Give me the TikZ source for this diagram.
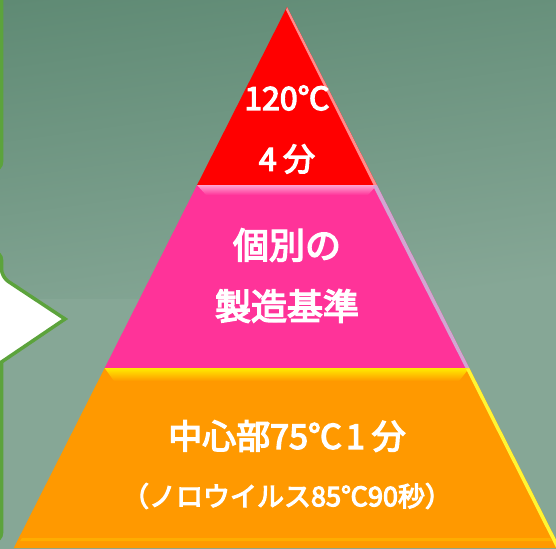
\documentclass[tikz,border=0pt]{standalone}
\usepackage{fontspec}
\newfontfamily\jp{Noto Sans CJK JP}[FakeBold=4]
\definecolor{bgtop}{HTML}{5F8A74}
\definecolor{bgbot}{HTML}{86A796}
\definecolor{gborder}{HTML}{5CA33C}
\definecolor{cred}{HTML}{FF0000}
\definecolor{cpink}{HTML}{FF3399}
\definecolor{corange}{HTML}{FF9900}
\tikzset{
  lbl/.style={text=white, font=\jp, align=center, inner sep=0pt},
  gbox/.style={draw=gborder, line width=3.5pt, fill=white, rounded corners=8pt},
}
\begin{document}
\begin{tikzpicture}[x=1pt,y=-1pt]
\useasboundingbox (0,0) rectangle (556,548);
\clip (0,0) rectangle (556,548);
% background
\shade[top color=bgtop, bottom color=bgbot, shading angle=8] (-20,-20) rectangle (576,300);
\fill[bgbot] (-20,299) rectangle (576,570);
% left boxes
\draw[gbox] (-200,-20) rectangle (1.5,170);
\draw[gbox] (-200,252) -- (1.5,252) -- (1.5,277) [sharp corners] -- (65,319) -- (1.5,362) [rounded corners=8pt] -- (1.5,541) -- (-200,541) -- cycle;
% pyramid: red
\fill[cred] (287,7) -- (376.9,185) -- (197.1,185) -- cycle;
\fill[red!45!white] (287,7) -- (376.9,185) -- (373.5,185) -- (286,10) -- cycle;
% pink
\fill[cpink] (197.1,185) -- (376.9,185) -- (469.3,368) -- (104.7,368) -- cycle;
\shade[top color=cpink!45!white, bottom color=cpink] (197.1,185) -- (376.9,185) -- (368,195) -- (206,195) -- cycle;
\fill[violet!35!white] (376.9,185) -- (469.3,368) -- (465.5,368) -- (373,186) -- cycle;
% orange
\fill[corange] (104.7,368) -- (469.3,368) -- (560.2,548) -- (13.8,548) -- cycle;
\shade[top color=yellow!85!orange, bottom color=corange] (104.7,368) -- (469.3,368) -- (459,381) -- (114,381) -- cycle;
\fill[yellow!80!white] (469.3,368) -- (560.2,548) -- (556.2,548) -- (466,369) -- cycle;
\fill[corange!80!yellow] (22,538) -- (550,538) -- (552,541) -- (20,541) -- cycle;
% labels
\node[lbl, font=\jp\fontsize{32}{38}\selectfont] (a1) at (287,98) {120℃};
\node[lbl, font=\jp\fontsize{32}{38}\selectfont] (a2) at (287,159) {4\hspace{0.2em}分};
\node[lbl, font=\jp\fontsize{36}{42}\selectfont] (b1) at (287,245) {個別の};
\node[lbl, font=\jp\fontsize{36}{42}\selectfont] (b2) at (287,306) {製造基準};
\node[lbl, font=\jp\fontsize{34}{40}\selectfont] (c1) at (287,436) {中心部75℃\hspace{0.12em}1\hspace{0.2em}分};
\node[lbl, font=\jp\fontsize{27}{32}\selectfont] (c2) at (287,496) {（ノロウイルス85℃90秒）};
\end{tikzpicture}
\end{document}
